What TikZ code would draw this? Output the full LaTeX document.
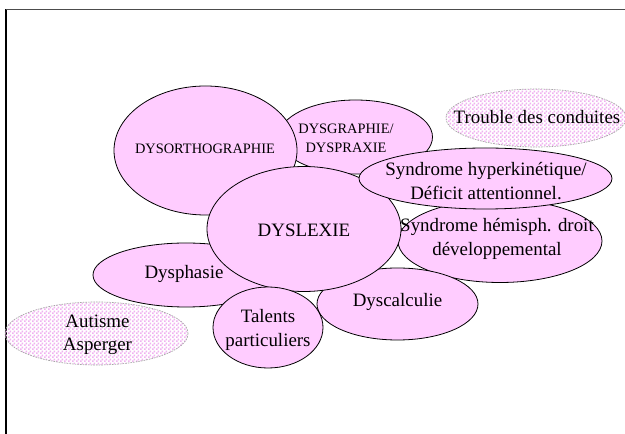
\documentclass[tikz,border=0pt]{standalone}
\usepackage{fontspec}
\setmainfont{Liberation Serif}
\usetikzlibrary{shapes.geometric,patterns.meta}
\definecolor{ellpink}{RGB}{255,204,255}
\definecolor{chkpink}{RGB}{240,178,240}
\tikzdeclarepattern{
  name=smallcheck,
  type=uncolored,
  bottom left={(0pt,0pt)}, top right={(3pt,3pt)},
  tile size={(3pt,3pt)},
  code={\fill (0pt,0pt) rectangle (1.5pt,1.5pt); \fill (1.5pt,1.5pt) rectangle (3pt,3pt);}
}
\tikzset{
  ell/.style={ellipse, draw=black, line width=0.6pt, fill=ellpink, inner sep=0pt},
  dell/.style={ellipse, draw=gray!70, dash pattern=on 1.2pt off 0.8pt, line width=0.5pt, pattern={smallcheck}, pattern color=chkpink, inner sep=0pt},
  lbl/.style={align=center, inner sep=0pt, font=\fontsize{14.2}{17.5}\selectfont},
  slbl/.style={align=center, inner sep=0pt, font=\fontsize{10.8}{14}\selectfont},
}
\begin{document}
\begin{tikzpicture}[x=0.75pt,y=-0.75pt]
\useasboundingbox (0,0) rectangle (625,434);
\fill[white] (0,0) rectangle (625,434);
% frame
\coordinate (fbl) at (6,434);
\coordinate (ftl) at (6,9.3);
\coordinate (ftr) at (625,9.3);
\draw[line width=0.8pt, black] (fbl) -- (ftl);
\draw[line width=0.8pt, black!70] (ftl) -- (ftr);

% outer (patterned) ellipses
\node[dell, minimum width=135pt, minimum height=43.5pt] (trouble) at (536,118) {};
\node[lbl] at (537,117) {Trouble des conduites};
\node[dell, minimum width=137.25pt, minimum height=47.25pt] (autisme) at (96.5,333.5) {};
\node[lbl] at (97.5,334.5) {Autisme\\Asperger};

% main cluster, back to front
\node[ell, minimum width=153pt, minimum height=62.25pt] (hemi) at (500,241) {};
\node[ell, minimum width=120.75pt, minimum height=54pt] (dyscal) at (397.5,304) {};
\node[ell, minimum width=139.5pt, minimum height=48pt] (dysph) at (186,275) {};
\node[ell, minimum width=115.5pt, minimum height=55.5pt] (dysgr) at (355.5,137) {};
\node[ell, minimum width=137.25pt, minimum height=96.75pt] (dysorth) at (205.5,150.5) {};
\node[ell, minimum width=145.5pt, minimum height=93.75pt] (dyslex) at (304,229) {};
\node[ell, minimum width=189.75pt, minimum height=45.75pt] (hyper) at (485.5,178.5) {};
\node[ell, minimum width=82.5pt, minimum height=60.75pt] (talents) at (268,327.5) {};

% labels
\node[slbl] at (346,138) {DYSGRAPHIE/\\DYSPRAXIE};
\node[slbl] at (205,149) {DYSORTHOGRAPHIE};
\node[lbl] at (304,230) {DYSLEXIE};
\node[lbl] at (486,181) {Syndrome hyperkinétique/\\Déficit attentionnel.};
\node[lbl] at (497,239) {Syndrome hémisph. droit\\développemental};
\node[lbl] at (184,274) {Dysphasie};
\node[lbl] at (397.5,302) {Dyscalculie};
\node[lbl] at (268,330) {Talents\\particuliers};
\end{tikzpicture}
\end{document}
